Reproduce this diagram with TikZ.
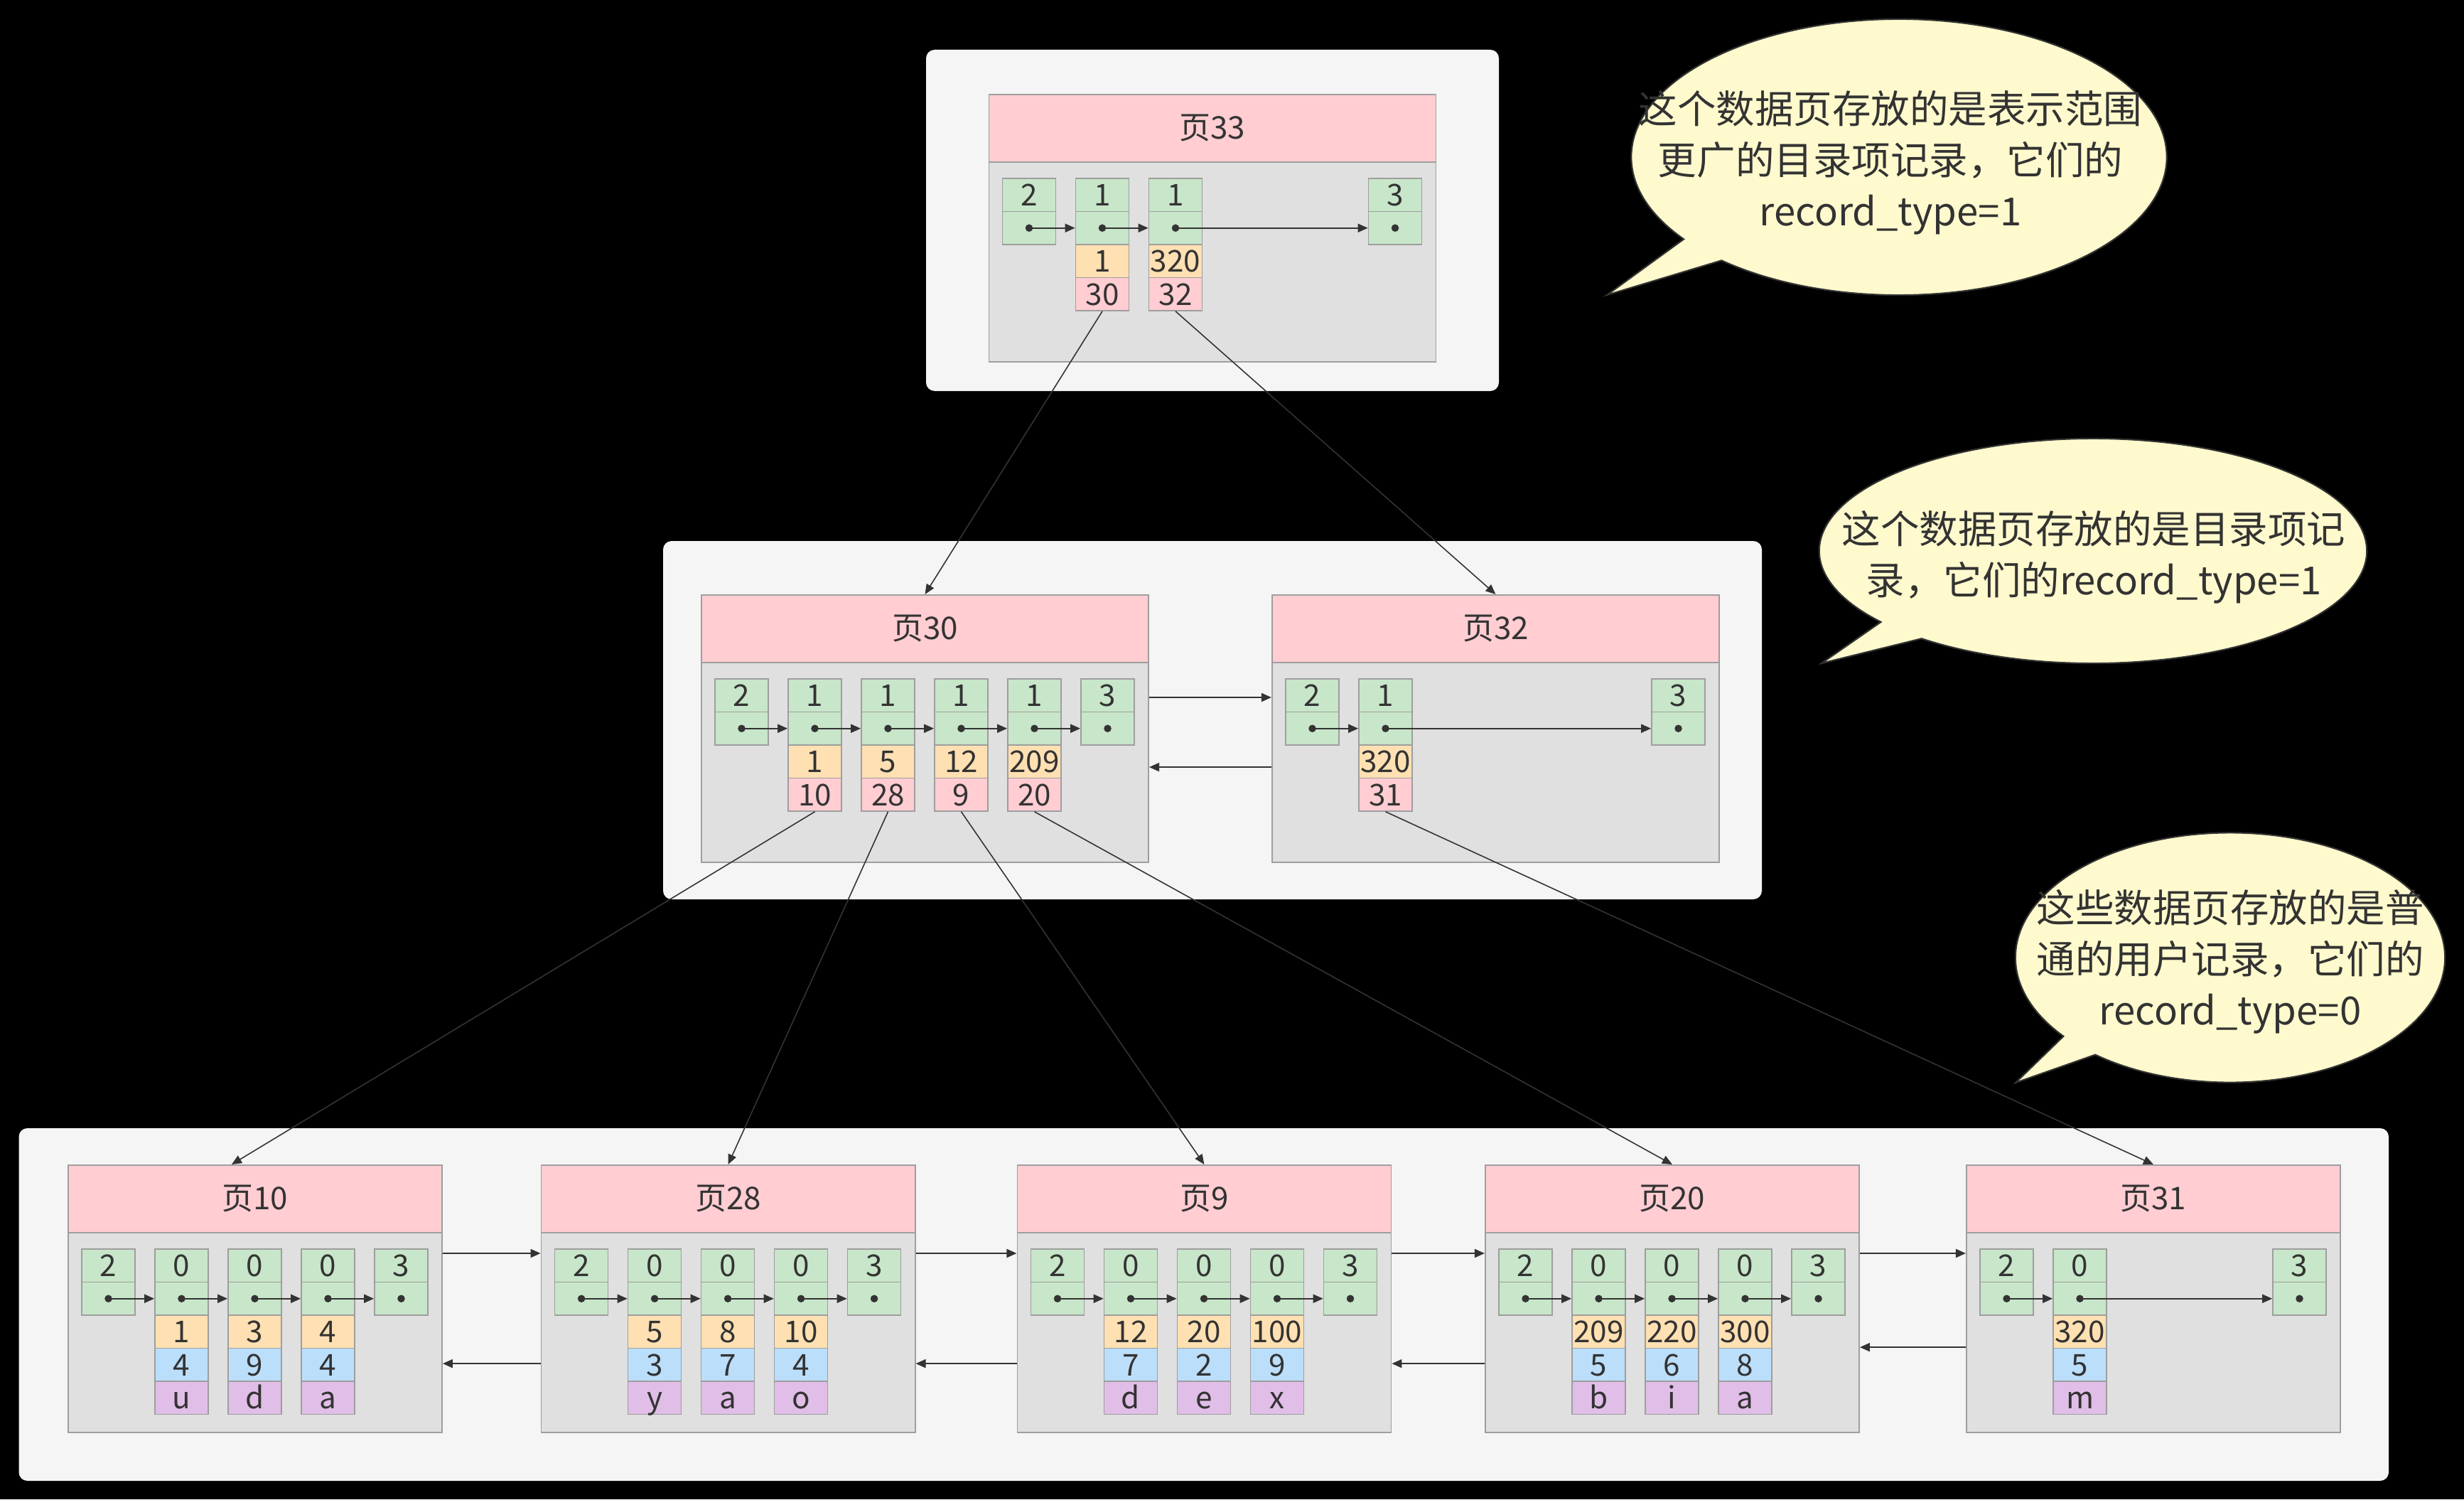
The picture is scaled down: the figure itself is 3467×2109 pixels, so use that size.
\documentclass[tikz,border=0pt]{standalone}
\usepackage{fontspec}
\setmainfont{Noto Sans CJK SC}
\usetikzlibrary{arrows.meta,shapes.callouts,positioning}

\definecolor{inkgray}{HTML}{333333}
\definecolor{linegray}{HTML}{9E9E9E}
\definecolor{shellgray}{HTML}{F5F5F5}
\definecolor{bodygray}{HTML}{E0E0E0}
\definecolor{headpink}{HTML}{FFCDD2}
\definecolor{cellgreen}{HTML}{C8E6C9}
\definecolor{cellorange}{HTML}{FFE0B2}
\definecolor{cellblue}{HTML}{BBDEFB}
\definecolor{cellpurple}{HTML}{E1BEE7}
\definecolor{notefill}{HTML}{FFFACD}

\tikzset{
  pghead/.style={draw=linegray, fill=headpink, line width=0.45pt, minimum height=0.95cm,
    anchor=north west, inner sep=0pt, text=inkgray, font=\fontsize{12.5}{14}\selectfont},
  pgbody/.style={draw=linegray, fill=bodygray, line width=0.45pt, minimum height=2.81cm,
    anchor=north west, inner sep=0pt},
  slot/.style={draw=linegray, line width=0.45pt, minimum width=0.75cm, minimum height=0.465cm,
    inner sep=0pt, text height=0.31cm, text depth=0pt, text=inkgray,
    font=\fontsize{12}{14}\selectfont},
  ptr/.style={draw=inkgray, line width=0.6pt, -{Triangle[length=4pt,width=3.4pt]}},
  link/.style={draw=inkgray, line width=0.45pt, -{Triangle[length=4pt,width=3.4pt]}},
  bubble/.style={ellipse callout, draw=inkgray, fill=notefill, line width=0.6pt,
    inner sep=0pt, callout pointer arc=12},
  notetext/.style={align=center, text=inkgray, font=\fontsize{15.5}{20.5}\selectfont}
}

\begin{document}
\begin{tikzpicture}[x=0.01cm, y=-0.01cm]
  \fill[black] (0,0) rectangle (3467,2109);
  % the three levels
  \fill[shellgray, rounded corners=0.12cm] (1303,70) rectangle (2109,550);
  \fill[shellgray, rounded corners=0.12cm] (933,761) rectangle (2479,1265);
  \fill[shellgray, rounded corners=0.12cm] (26.5,1587) rectangle (3361,2083);

  % pages
  \foreach \pg/\px/\py/\pw in {33/1390.5/132/6.29, 30/986/836/6.29, 32/1789/836/6.29,
      10/95/1638/5.26, 28/760.6/1638/5.26, 9/1430.5/1638/5.26, 20/2089/1638/5.26, 31/2766/1638/5.26}
    {\node[pghead, minimum width=\pw cm] (p\pg) at (\px,\py) {页\pg};
     \node[pgbody, minimum width=\pw cm] (b\pg) at (\px,\py+95) {};}

  % record headers: record_type and next pointer
  \foreach \pg/\px/\py/\cells in {33/1390.5/132/{2/0,1/1,1/2,3/5},
      30/986/836/{2/0,1/1,1/2,1/3,1/4,3/5}, 32/1789/836/{2/0,1/1,3/5},
      10/95/1638/{2/0,0/1,0/2,0/3,3/4}, 28/760.6/1638/{2/0,0/1,0/2,0/3,3/4},
      9/1430.5/1638/{2/0,0/1,0/2,0/3,3/4}, 20/2089/1638/{2/0,0/1,0/2,0/3,3/4},
      31/2766/1638/{2/0,0/1,3/4}}
    \foreach \j/\sl in \cells
      {\node[slot, fill=cellgreen] (n\pg-\sl) at (\px+57.5+103*\sl, \py+142.25) {\j};
       \node[slot, fill=cellgreen] (d\pg-\sl) at (\px+57.5+103*\sl, \py+188.75) {};
       \fill[inkgray] (d\pg-\sl) circle (1.5pt);}

  % directory entries: key and page number
  \foreach \pg/\px/\py/\recs in {33/1390.5/132/{1/30,320/32},
      30/986/836/{1/10,5/28,12/9,209/20}, 32/1789/836/{320/31}}
    \foreach \kv/\pv [count=\xi] in \recs
      {\node[slot, fill=cellorange] (k\pg-\xi) at (\px+57.5+103*\xi, \py+235.25) {\kv};
       \node[slot, fill=headpink] (c\pg-\xi) at (\px+57.5+103*\xi, \py+281.75) {\pv};}

  % user records
  \foreach \pg/\px/\recs in {10/95/{1/4/u,3/9/d,4/4/a}, 28/760.6/{5/3/y,8/7/a,10/4/o},
      9/1430.5/{12/7/d,20/2/e,100/9/x}, 20/2089/{209/5/b,220/6/i,300/8/a}, 31/2766/{320/5/m}}
    \foreach \kv/\bv/\ch [count=\xi] in \recs
      {\node[slot, fill=cellorange] (k\pg-\xi) at (\px+57.5+103*\xi, 1873.25) {\kv};
       \node[slot, fill=cellblue] (u\pg-\xi) at (\px+57.5+103*\xi, 1919.75) {\bv};
       \node[slot, fill=cellpurple] (w\pg-\xi) at (\px+57.5+103*\xi, 1966.25) {\ch};}

  % next record chains
  \foreach \pg/\chain in {33/{0/1,1/2,2/5}, 30/{0/1,1/2,2/3,3/4,4/5}, 32/{0/1,1/5},
      10/{0/1,1/2,2/3,3/4}, 28/{0/1,1/2,2/3,3/4}, 9/{0/1,1/2,2/3,3/4},
      20/{0/1,1/2,2/3,3/4}, 31/{0/1,1/4}}
    \foreach \sa/\sb in \chain
      \draw[ptr] (d\pg-\sa.center) -- (d\pg-\sb.west);

  % double linked pages
  \draw[ptr] ([yshift=-0.5cm]b30.north east) -- ([yshift=-0.5cm]b32.north west);
  \draw[ptr] ([yshift=-1.48cm]b32.north west) -- ([yshift=-1.48cm]b30.north east);
  \foreach \pa/\pb in {10/28,28/9,9/20,20/31}
    \draw[ptr] ([yshift=-0.3cm]b\pa.north east) -- ([yshift=-0.3cm]b\pb.north west);
  \foreach \pa/\pb/\dy in {28/10/1.85,9/28/1.85,20/9/1.85,31/20/1.62}
    \draw[ptr] ([yshift=-\dy cm]b\pa.north west) -- ([yshift=-\dy cm]b\pb.north east);

  % child pages
  \draw[link] (c33-1.south) -- (p30.north);
  \draw[link] (c33-2.south) -- (p32.north);
  \draw[link] (c30-1.south) -- ([xshift=-0.33cm]p10.north);
  \foreach \xi/\pg in {2/28,3/9,4/20}
    \draw[link] (c30-\xi.south) -- (p\pg.north);
  \draw[link] (c32-1.south) -- (p31.north);

  % notes
  \node[bubble, minimum width=7.53cm, minimum height=3.88cm,
    callout absolute pointer={(2261,415)}] (note33) at (2672,221) {};
  \node[notetext] (note33txt) at (2660,229) {这个数据页存放的是表示范围\\更广的目录项记录，它们的\\record\_type=1};
  \node[bubble, minimum width=7.70cm, minimum height=3.16cm,
    callout absolute pointer={(2563,933)}] (note30) at (2945,775) {};
  \node[notetext] (note30txt) at (2946,784) {这个数据页存放的是目录项记\\录，它们的record\_type=1};
  \node[bubble, minimum width=6.04cm, minimum height=3.51cm,
    callout absolute pointer={(2836,1523)}] (note10) at (3138,1347) {};
  \node[notetext] (note10txt) at (3138,1353) {这些数据页存放的是普\\通的用户记录，它们的\\record\_type=0};
\end{tikzpicture}
\end{document}
